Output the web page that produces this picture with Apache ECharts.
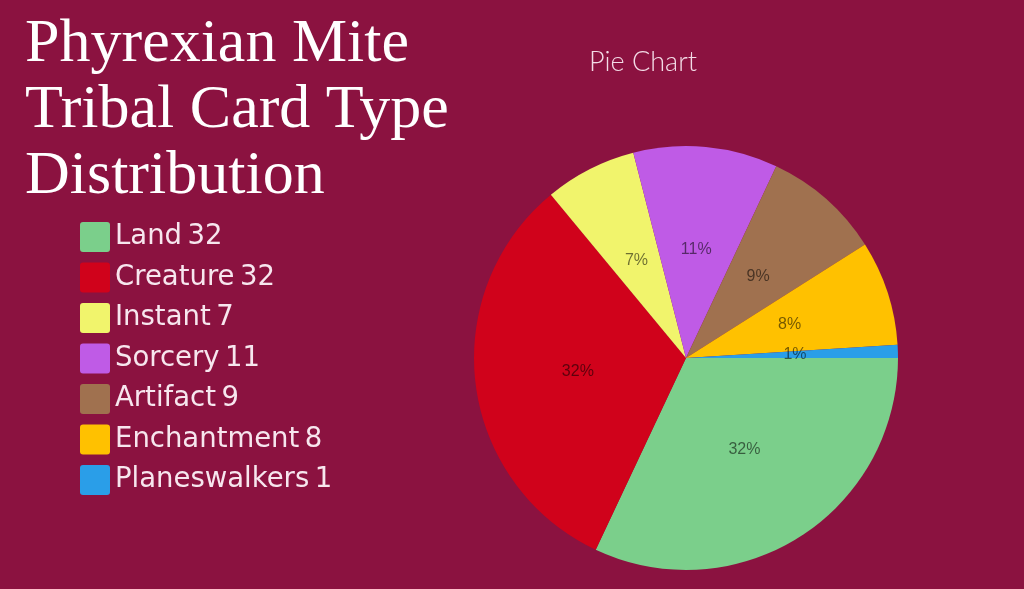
<!DOCTYPE html>
<html>
<head>
<meta charset="utf-8">
<script src="https://cdn.jsdelivr.net/npm/echarts@6/dist/echarts.min.js"></script>
<style>
html,body{margin:0;padding:0;background:#8b1240;}
#c{width:1024px;height:589px;}
</style>
</head>
<body>
<div id="c"></div>
<script>
const categories = ['Land', 'Creature', 'Instant', 'Sorcery', 'Artifact', 'Enchantment', 'Planeswalkers'];
const counts = [32, 32, 7, 11, 9, 8, 1];
const colors = ['#7bcf8b', '#d0021b', '#f1f46c', '#bf5be6', '#a0714f', '#ffc100', '#2a9ee8'];
const titleLines = ['Phyrexian Mite', 'Tribal Card Type', 'Distribution'];
const subtitle = 'Pie Chart';

const chart = echarts.init(document.getElementById('c'), null, {renderer: 'canvas'});
const data = categories.map((n, i) => ({name: n, value: counts[i], itemStyle: {color: colors[i]}}));
chart.setOption({
  backgroundColor: '#8b1240',
  animation: false,
  title: [
    {
      text: titleLines.join('\n'),
      left: 25, top: 12, padding: 0,
      textStyle: {fontFamily: 'Liberation Serif', fontSize: 62, fontWeight: 'normal', color: '#ffffff', lineHeight: 66}
    },
    {
      text: subtitle,
      left: 643, top: 49, textAlign: 'center', padding: 0,
      textStyle: {fontFamily: 'Lato', fontSize: 27, fontWeight: 300, color: '#f3dbe6'}
    }
  ],
  legend: {
    orient: 'vertical',
    left: 80, top: 222, padding: 0,
    itemWidth: 30, itemHeight: 30, itemGap: 10.5,
    icon: 'path://M3,0H27A3,3 0 0 1 30,3V27A3,3 0 0 1 27,30H3A3,3 0 0 1 0,27V3A3,3 0 0 1 3,0Z',
    data: categories,
    formatter: function (name) { return name + '\u2009' + counts[categories.indexOf(name)]; },
    textStyle: {fontFamily: 'DejaVu Sans', fontSize: 27.5, color: '#f7e6ee', padding: [3, 0, 0, 0]}
  },
  series: [{
    type: 'pie',
    center: [686, 358],
    radius: 212,
    startAngle: 0,
    clockwise: true,
    data: data,
    label: {
      show: true, position: 'inner',
      formatter: function (p) { return Math.round(p.percent) + '%'; },
      fontFamily: 'Liberation Sans', fontSize: 16, color: 'rgba(0,0,0,0.55)'
    },
    labelLine: {show: false},
    itemStyle: {borderWidth: 0},
    emphasis: {disabled: true}
  }]
});
</script>
</body>
</html>
